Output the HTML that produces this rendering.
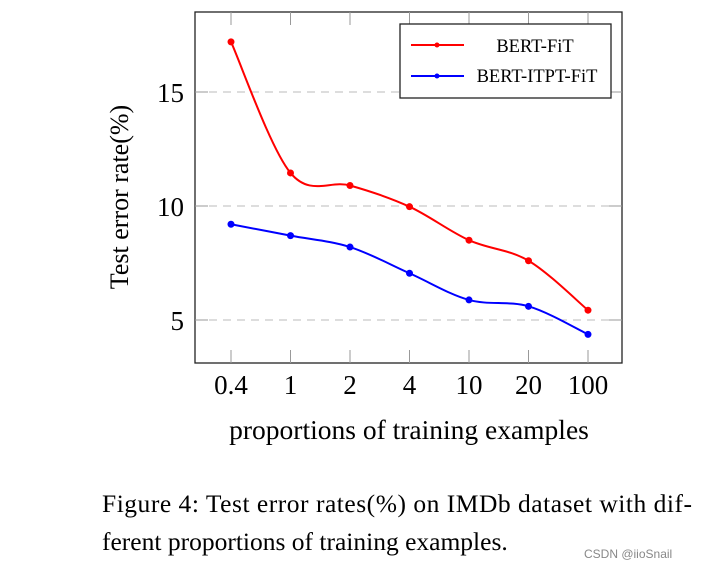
<!DOCTYPE html>
<html><head><meta charset="utf-8"><style>
body{margin:0;background:#fff;width:712px;height:569px;overflow:hidden}
text{font-family:"Liberation Serif",serif}
</style></head><body>
<svg width="712" height="569">
<g id="grid"></g>
<g id="marks"></g>
<rect x="195" y="12" width="427" height="351" fill="none" stroke="#222" stroke-width="1.3"/>
<g id="ticks"></g>
<text transform="translate(128,197) rotate(-90)" text-anchor="middle" font-size="26">Test error rate(%)</text>
<text x="409" y="439" text-anchor="middle" font-size="27.5">proportions of training examples</text>
<g>
<rect x="400" y="24" width="211" height="74" fill="#fff" stroke="#222" stroke-width="1.3"/>
<line x1="411" y1="45" x2="464" y2="45" stroke="#f00" stroke-width="2"/><circle cx="437" cy="45" r="2.5" fill="#f00"/>
<text x="535" y="52" text-anchor="middle" font-size="18.5">BERT-FiT</text>
<line x1="411" y1="76" x2="464" y2="76" stroke="#00f" stroke-width="2"/><circle cx="437" cy="76" r="2.5" fill="#00f"/>
<text x="537" y="82" text-anchor="middle" font-size="18.5">BERT-ITPT-FiT</text>
</g>
<text x="102" y="512" font-size="25.5" textLength="590" lengthAdjust="spacing">Figure 4: Test error rates(%) on IMDb dataset with dif-</text>
<text x="102" y="550" font-size="25.5">ferent proportions of training examples.</text>
<text x="584" y="558" font-size="12" fill="#888" style="font-family:'Liberation Sans',sans-serif">CSDN @iioSnail</text>
</svg>
<script>
const categories=["0.4","1","2","4","10","20","100"];
const bertFit=[17.2,11.45,10.9,9.97,8.5,7.6,5.43];
const bertItptFit=[9.2,8.7,8.2,7.05,5.88,5.6,4.37];
const yTicks=[5,10,15];
const NS="http://www.w3.org/2000/svg";
const xs=i=>231+i*59.5;
const ys=v=>320-(v-5)*22.8;
const g=document.getElementById('grid'),t=document.getElementById('ticks'),m=document.getElementById('marks');
function mk(tag,at,par){const e=document.createElementNS(NS,tag);for(const k in at)e.setAttribute(k,at[k]);par.appendChild(e);return e;}
yTicks.forEach(v=>{
 const l=mk('line',{x1:195,x2:622,y1:ys(v),y2:ys(v),stroke:'#bbb','stroke-dasharray':'8,6'},g);
 
 
 mk('line',{x1:195,x2:208,y1:ys(v),y2:ys(v),stroke:'#999'},t);
 mk('line',{x1:609,x2:622,y1:ys(v),y2:ys(v),stroke:'#999'},t);
 const tx=mk('text',{x:184,y:ys(v)+10,'text-anchor':'end','font-size':27},t);tx.textContent=v;
 
 
});
categories.forEach((c,i)=>{
 mk('line',{x1:xs(i),x2:xs(i),y1:350,y2:363,stroke:'#999'},t);
 mk('line',{x1:xs(i),x2:xs(i),y1:12,y2:25,stroke:'#999'},t);
 const tx=mk('text',{x:xs(i),y:394,'text-anchor':'middle','font-size':27},t);tx.textContent=c;
 
 
});
function smooth(p){let d=`M${p[0][0]},${p[0][1]}`;const k=0.5/3*2;
 for(let i=0;i<p.length-1;i++){const p0=p[i-1]||p[i],p1=p[i],p2=p[i+1],p3=p[i+2]||p2;
  const c1=[p1[0]+(p2[0]-p0[0])*k/2,p1[1]+(p2[1]-p0[1])*k/2],c2=[p2[0]-(p3[0]-p1[0])*k/2,p2[1]-(p3[1]-p1[1])*k/2];
  d+=` C${c1[0]},${c1[1]} ${c2[0]},${c2[1]} ${p2[0]},${p2[1]}`;}return d;}
[[bertFit,'#f00','bert-fit'],[bertItptFit,'#00f','bert-itpt-fit']].forEach(([vals,col,nm])=>{
 const pts=vals.map((v,i)=>[xs(i),ys(v)]);
 const p=mk('path',{d:smooth(pts),fill:'none',stroke:col,'stroke-width':2},m);
 
 
 pts.forEach(q=>{const c=mk('circle',{cx:q[0],cy:q[1],r:3.5,fill:col},m);
  
  });
});
</script>
</body></html>
